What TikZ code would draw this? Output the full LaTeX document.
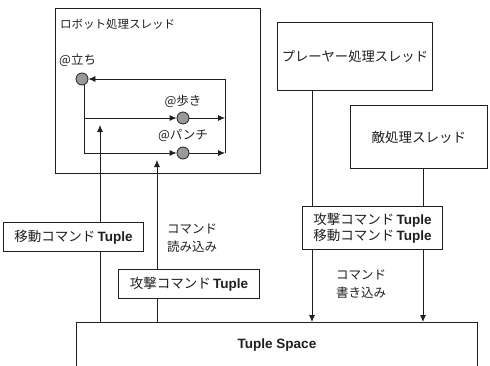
\documentclass[tikz,border=0pt]{standalone}
\usepackage{fontspec}
\setmainfont{Noto Sans CJK JP}
\newfontfamily\lat{Liberation Sans}
\usetikzlibrary{arrows.meta}
\definecolor{ink}{gray}{0.12}
\definecolor{dot}{gray}{0.6}
\tikzset{
  box/.style={draw=ink, line width=0.8pt, fill=white, inner sep=0pt, text=ink},
  lbl/.style={inner sep=0pt, text=ink, align=left},
  ln/.style={draw=ink, line width=0.8pt},
  arr/.style={ln, -{Latex[length=7pt,width=6pt]}},
  state/.style={circle, draw=ink, line width=0.8pt, fill=dot, minimum size=12pt, inner sep=0pt},
}
\newcommand{\tp}{\lat\bfseries Tuple}
\begin{document}
\begin{tikzpicture}[x=1pt,y=-1pt]
\useasboundingbox (0,0) rectangle (490,365);
\clip (0,0) rectangle (490,365);
% Tuple space
\node[box, minimum width=401pt, minimum height=60pt, anchor=north west] (ts) at (76,322) {};
\node[lbl, font=\lat\bfseries\fontsize{13.5}{15}\selectfont] (tst) at (277,345) {Tuple Space};
% robot thread
\node[box, fill=none, minimum width=205pt, minimum height=165pt, anchor=north west] (rb) at (55,8) {};
\node[lbl, anchor=west, font=\fontsize{11.5}{13}\selectfont] (rbt) at (60,24) {ロボット処理スレッド};
\node[lbl, anchor=west, font=\fontsize{12.5}{14}\selectfont] (la) at (59,60) {@立ち};
\node[state] (sa) at (82,79) {};
\node[state] (sb) at (183,118) {};
\node[state] (sc) at (183,153) {};
\node[lbl, font=\fontsize{12.5}{14}\selectfont] (lb) at (183,101) {@歩き};
\node[lbl, font=\fontsize{12.5}{14}\selectfont] (lc) at (183,136) {@パンチ};
\coordinate (rt) at (225,79);
\coordinate (rm) at (225,118);
\coordinate (rbm) at (225,153);
\coordinate (lm) at (84,118);
\coordinate (lbm) at (84,153);
\draw[ln] (rbm) -- (rt);
\draw[arr] (rt) -- (sa);
\draw[ln] (sa.south -| lbm) -- (lbm);
\draw[arr] (lm) -- (sb);
\draw[arr] (lbm) -- (sc);
\draw[arr] (sb) -- (rm);
\draw[arr] (sc) -- (rbm);
% read arrows
\coordinate (ua) at (100,125);
\coordinate (ub) at (157,160);
\draw[arr] (ua |- ts.north) -- (ua);
\draw[arr] (ub |- ts.north) -- (ub);
\node[box, minimum width=140pt, minimum height=29pt, anchor=north west, font=\fontsize{13.5}{15}\selectfont] (mv) at (3,222) {移動コマンド\,\tp};
\node[box, minimum width=141pt, minimum height=29pt, anchor=north west, font=\fontsize{13.5}{15}\selectfont] (at) at (118,269) {攻撃コマンド\,\tp};
\node[lbl, anchor=north west, font=\fontsize{12.5}{18}\selectfont] (rd) at (167,224) {コマンド\\読み込み};
% player & enemy
\node[box, minimum width=155pt, minimum height=68pt, anchor=north west, font=\fontsize{13.3}{15}\selectfont] (pl) at (277,22) {プレーヤー処理スレッド};
\node[box, minimum width=137pt, minimum height=63pt, anchor=north west, font=\fontsize{13.5}{15}\selectfont] (en) at (350,105) {敵処理スレッド};
\coordinate (px) at (312,0);
\coordinate (ex) at (423,0);
\draw[arr] (pl.south -| px) -- (ts.north -| px);
\draw[arr] (en.south -| ex) -- (ts.north -| ex);
\node[box, minimum width=140pt, minimum height=43pt, anchor=north west, align=center, font=\fontsize{13.5}{16}\selectfont] (wb) at (302,206) {攻撃コマンド\,\tp\\移動コマンド\,\tp};
\node[lbl, anchor=north west, font=\fontsize{12.5}{18}\selectfont] (wr) at (336,270) {コマンド\\書き込み};
\end{tikzpicture}
\end{document}
